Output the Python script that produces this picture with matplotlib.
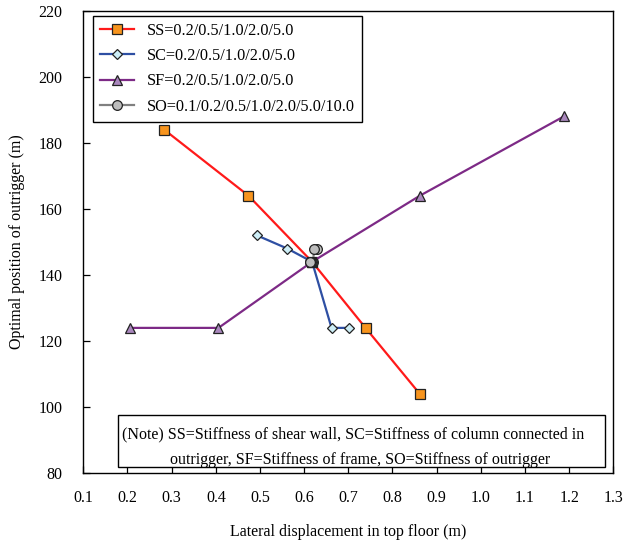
import matplotlib
matplotlib.use("Agg")
import matplotlib.pyplot as plt
from matplotlib.patches import Rectangle

# ---- data ----
ss_x = [0.283, 0.474, 0.618, 0.739, 0.862]
ss_y = [184, 164, 144, 124, 104]
sc_x = [0.493, 0.562, 0.618, 0.662, 0.702]
sc_y = [152, 148, 144, 124, 124]
sf_x = [0.206, 0.406, 0.618, 0.862, 1.188]
sf_y = [124, 124, 144, 164, 188]
so_x = [0.628, 0.623, 0.620, 0.618, 0.616, 0.614, 0.613]
so_y = [148, 148, 144, 144, 144, 144, 144]

labels = ["SS=0.2/0.5/1.0/2.0/5.0", "SC=0.2/0.5/1.0/2.0/5.0",
          "SF=0.2/0.5/1.0/2.0/5.0", "SO=0.1/0.2/0.5/1.0/2.0/5.0/10.0"]
xticks = [0.1, 0.2, 0.3, 0.4, 0.5, 0.6, 0.7, 0.8, 0.9, 1.0, 1.1, 1.2, 1.3]
xticklabels = ["0.1", "0.2", "0.3", "0.4", "0.5", "0.6", "0.7", "0.8", "0.9", "1.0", "1.1", "1.2", "1.3"]
yticks = [80, 100, 120, 140, 160, 180, 200, 220]
note1 = "(Note) SS=Stiffness of shear wall, SC=Stiffness of column connected in"
note2 = "outrigger, SF=Stiffness of frame, SO=Stiffness of outrigger"

plt.rcParams['font.family'] = ['Liberation Serif', 'DejaVu Serif']
plt.rcParams['font.size'] = 11.5

fig = plt.figure(figsize=(6.37, 5.42), dpi=100)
ax = fig.add_axes([0.1308, 0.1268, 0.8320, 0.8535])

ax.plot(ss_x, ss_y, color='#ff1a1a', lw=1.6, marker='s', ms=6.8,
        mfc='#f7941d', mec='#222222', mew=0.9, label=labels[0], zorder=3)
ax.plot(sc_x, sc_y, color='#2e4fa3', lw=1.6, marker='D', ms=5.3,
        mfc='#cdeef7', mec='#222222', mew=0.9, label=labels[1], zorder=3)
ax.plot(sf_x, sf_y, color='#7d2a86', lw=1.6, marker='^', ms=7.2,
        mfc='#a987bd', mec='#222222', mew=0.9, label=labels[2], zorder=3)
ax.plot(so_x, so_y, color='#808080', lw=1.6, marker='o', ms=7.0,
        mfc='#bdbdbd', mec='#222222', mew=0.9, label=labels[3], zorder=4)

ax.set_xlim(0.1, 1.3)
ax.set_ylim(80, 220)
ax.set_xticks(xticks)
ax.set_xticklabels(xticklabels)
ax.set_yticks(yticks)
ax.tick_params(direction='in', length=5, width=0.9, top=False, right=False)
ax.tick_params(axis='x', pad=12)
ax.tick_params(axis='y', pad=15)
for s in ax.spines.values():
    s.set_linewidth(1.0)
    s.set_color('black')

ax.set_xlabel("Lateral displacement in top floor (m)", labelpad=13)
ax.set_ylabel("Optimal position of outrigger (m)", labelpad=10)

leg = ax.legend(loc='upper left', bbox_to_anchor=(0.0189, 0.989), borderaxespad=0,
                fancybox=False, edgecolor='black', framealpha=1, handlelength=2.1,
                handletextpad=0.8, labelspacing=0.58, borderpad=0.42, fontsize=11.7)
leg.get_frame().set_linewidth(1.0)

ax.add_patch(Rectangle((0.0655, 0.0143), 0.9185, 0.1107, transform=ax.transAxes,
                       fill=True, facecolor='white', edgecolor='black', lw=1.0, zorder=5))
ax.text(0.073, 0.085, note1, transform=ax.transAxes, ha='left', va='center', zorder=6)
ax.text(0.164, 0.029, note2, transform=ax.transAxes, ha='left', va='center', zorder=6)

fig.savefig("out.png", dpi=100)
